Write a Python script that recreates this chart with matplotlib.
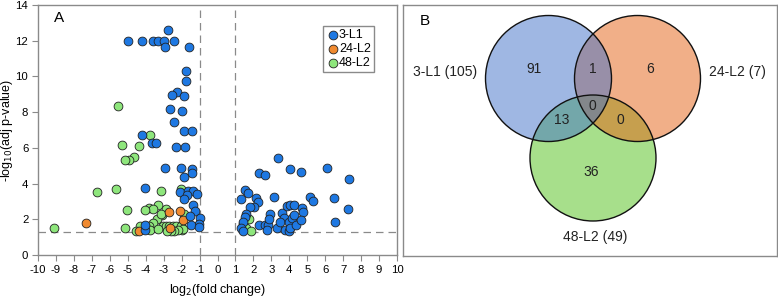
import numpy as np
import matplotlib.pyplot as plt
import matplotlib as mpl
from matplotlib.patches import Circle

mpl.rcParams.update({"font.family": ["Liberation Sans", "DejaVu Sans"],
                     "font.size": 8.5, "axes.unicode_minus": False})

# ---- panel A data: (log2 fold change, -log10 adj p) ----
l1_x = [-5.0, -4.2, -3.6, -3.3, -3.0, -2.44, -2.76, -2.94, -1.57,
        -1.76, -1.76, -2.24, -2.56, -1.85, -2.63, -1.96, -2.43, -1.89, -1.44,
        -4.2, -3.67, -3.44, -2.33, -1.83,
        -2.94, -2.06, -1.41, -1.44, -1.87,
        -4.06, -2.11, -1.63, -1.37, -1.69, -1.13, -1.87, -1.35, -1.28, -1.54,
        -0.98, -1.04, -1.5, -1.04, -4.06, -4.04,
        3.35, 2.33, 2.67, 4.02, 4.63, 6.08, 7.33, 1.52, 1.68, 1.33, 2.17, 2.24,
        3.13, 5.17, 5.3, 6.5, 2.06, 1.79, 7.26, 1.59, 1.52, 1.41, 1.33, 1.41,
        2.3, 2.63, 2.82, 2.76, 2.91, 2.85, 3.31, 3.59, 3.69, 3.5, 3.87, 4.06,
        4.24, 3.96, 4.15, 4.24, 3.78, 3.96, 4.06, 4.39, 4.7, 4.74, 4.67, 6.52]
l1_y = [12.0, 12.0, 12.0, 12.0, 12.0, 12.0, 12.6, 11.63, 11.63,
        10.3, 9.72, 9.13, 8.94, 8.88, 8.17, 8.08, 7.47, 6.94, 6.96,
        6.74, 6.29, 6.29, 6.06, 6.06,
        4.89, 4.87, 4.8, 4.57, 4.38,
        3.73, 3.55, 3.57, 3.57, 3.36, 3.4, 3.12, 2.78, 2.48, 2.2,
        2.1, 1.74, 1.68, 1.58, 1.38, 1.68,
        5.41, 4.57, 4.48, 4.81, 4.65, 4.89, 4.27, 3.64, 3.49, 3.12, 3.17, 2.98,
        3.23, 3.23, 3.04, 3.17, 2.67, 2.67, 2.59, 2.3, 2.14, 1.86, 1.5, 1.35,
        1.68, 1.68, 1.68, 1.4, 2.3, 2.0, 1.49, 2.33, 2.05, 1.86, 2.74, 2.8,
        2.8, 1.86, 2.05, 2.24, 1.4, 1.34, 1.49, 1.68, 2.61, 2.42, 1.96, 1.86]

l24_x = [-7.33, -4.39, -2.7, -2.09, -1.91, -2.65]
l24_y = [1.81, 1.34, 2.39, 2.48, 1.96, 1.5]

l48_x = [-5.56, -5.31, -4.37, -3.78, -4.65, -4.93, -5.13, -5.67, -6.74, -9.13,
         -5.02, -5.18, -3.17, -2.04, -2.89, -3.32, -3.81, -3.59, -4.06, -3.09,
         -3.37, -3.57, -3.81, -4.06, -4.31, -4.56, -3.78, -3.02, -1.85, -1.98,
         -3.13, -2.85, -2.7, -2.5, -2.3, -2.05, -1.9, -2.2, -2.4, -2.6, -2.8,
         -3.3, 1.41, 1.78, 1.59, 1.89]
l48_y = [8.34, 6.14, 6.1, 6.72, 5.5, 5.32, 5.32, 3.71, 3.53, 1.49,
         2.52, 1.49, 3.6, 3.68, 2.56, 2.78, 2.65, 2.56, 2.52, 2.24,
         2.02, 1.81, 1.62, 1.62, 1.62, 1.34, 1.38, 1.62, 2.28, 1.4,
         2.28, 1.65, 1.65, 1.65, 1.6, 1.6, 1.45, 1.4, 1.35, 1.35, 1.35,
         1.45, 1.74, 2.02, 1.53, 1.34]

# ---- panel B data ----
set_names = ["3-L1", "24-L2", "48-L2"]
set_totals = [105, 7, 49]
# regions: only1, only2, only3, 1&2, 1&3, 2&3, all
region_counts = [91, 6, 36, 1, 13, 0, 0]

C_BLUE, C_ORANGE, C_GREEN = "#1e78e2", "#f08a30", "#8ee67c"
GRAY = "#8a8a8a"

fig = plt.figure(figsize=(7.78, 3.01), dpi=100)
W, H = 778, 301

# ---------------- panel A ----------------
ax = fig.add_axes([38 / W, 1 - 255 / H, 359 / W, 250 / H])
kw = dict(s=40, edgecolors="#222222", linewidths=0.6, zorder=3)
ax.scatter(l48_x, l48_y, color=C_GREEN, label="48-L2", **kw)
ax.scatter(l24_x, l24_y, color=C_ORANGE, label="24-L2", **kw)
ax.scatter(l1_x, l1_y, color=C_BLUE, label="3-L1", **kw)

dash = dict(color=GRAY, lw=0.9, ls=(0, (6, 4)), zorder=1)
ax.axvline(-1, **dash)
ax.axvline(1, **dash)
ax.axhline(-np.log10(0.05), **dash)

ax.set_xlim(-10, 10)
ax.set_ylim(0, 14)
ax.set_xticks(range(-10, 11))
ax.set_yticks(range(0, 15, 2))
ax.tick_params(direction="out", length=4, width=0.8, color=GRAY, labelsize=8.2, pad=3)
for s in ax.spines.values():
    s.set_color(GRAY)
    s.set_linewidth(1.0)
ax.set_xlabel("log$_2$(fold change)", fontsize=9)
ax.xaxis.set_label_coords(0.5, -0.11)
ax.set_ylabel("-log$_{10}$(adj p-value)", fontsize=9)
ax.yaxis.set_label_coords(-0.064, 0.5)
ax.text(0.045, 0.93, "A", transform=ax.transAxes, fontsize=11)

h, l = ax.get_legend_handles_labels()
leg = ax.legend(h[::-1], l[::-1], loc="upper left", bbox_to_anchor=(0.795, 0.915),
                fontsize=9, handletextpad=0.0, labelspacing=0.15, borderpad=0.25,
                handlelength=1.0, borderaxespad=0, fancybox=False, framealpha=1)
leg.get_frame().set_edgecolor(GRAY)

# ---------------- panel B ----------------
bx = fig.add_axes([403 / W, 1 - 256 / H, 374 / W, 251 / H])
bx.set_xlim(403, 777)
bx.set_ylim(256, 5)
bx.set_xticks([])
bx.set_yticks([])
for s in bx.spines.values():
    s.set_color(GRAY)
    s.set_linewidth(1.0)

r = 63
centers = [(548.5, 78.5), (637.5, 78.5), (593, 158)]
fills = ["#4171c9", "#e56113", "#51c119"]
for i in [2, 1, 0]:
    bx.add_patch(Circle(centers[i], r, facecolor=fills[i], alpha=0.5,
                        edgecolor="none"))
for i in range(3):
    bx.add_patch(Circle(centers[i], r, facecolor="none", edgecolor="#111111",
                        lw=1.0))

txt = dict(fontsize=10, ha="center", va="center", color="#222222")
region_pos = [(534, 69), (650, 69), (591, 172), (592.5, 69), (561.5, 120),
              (620, 120), (592.5, 106)]
for (x, y), n in zip(region_pos, region_counts):
    bx.text(x, y, str(n), **txt)

label_pos = [(445, 72), (737, 72), (595, 237)]
for (x, y), name, tot in zip(label_pos, set_names, set_totals):
    bx.text(x, y, f"{name} ({tot})", **txt)
bx.text(420, 21, "B", fontsize=11, ha="left", va="center")

fig.savefig("out.png", dpi=100)
